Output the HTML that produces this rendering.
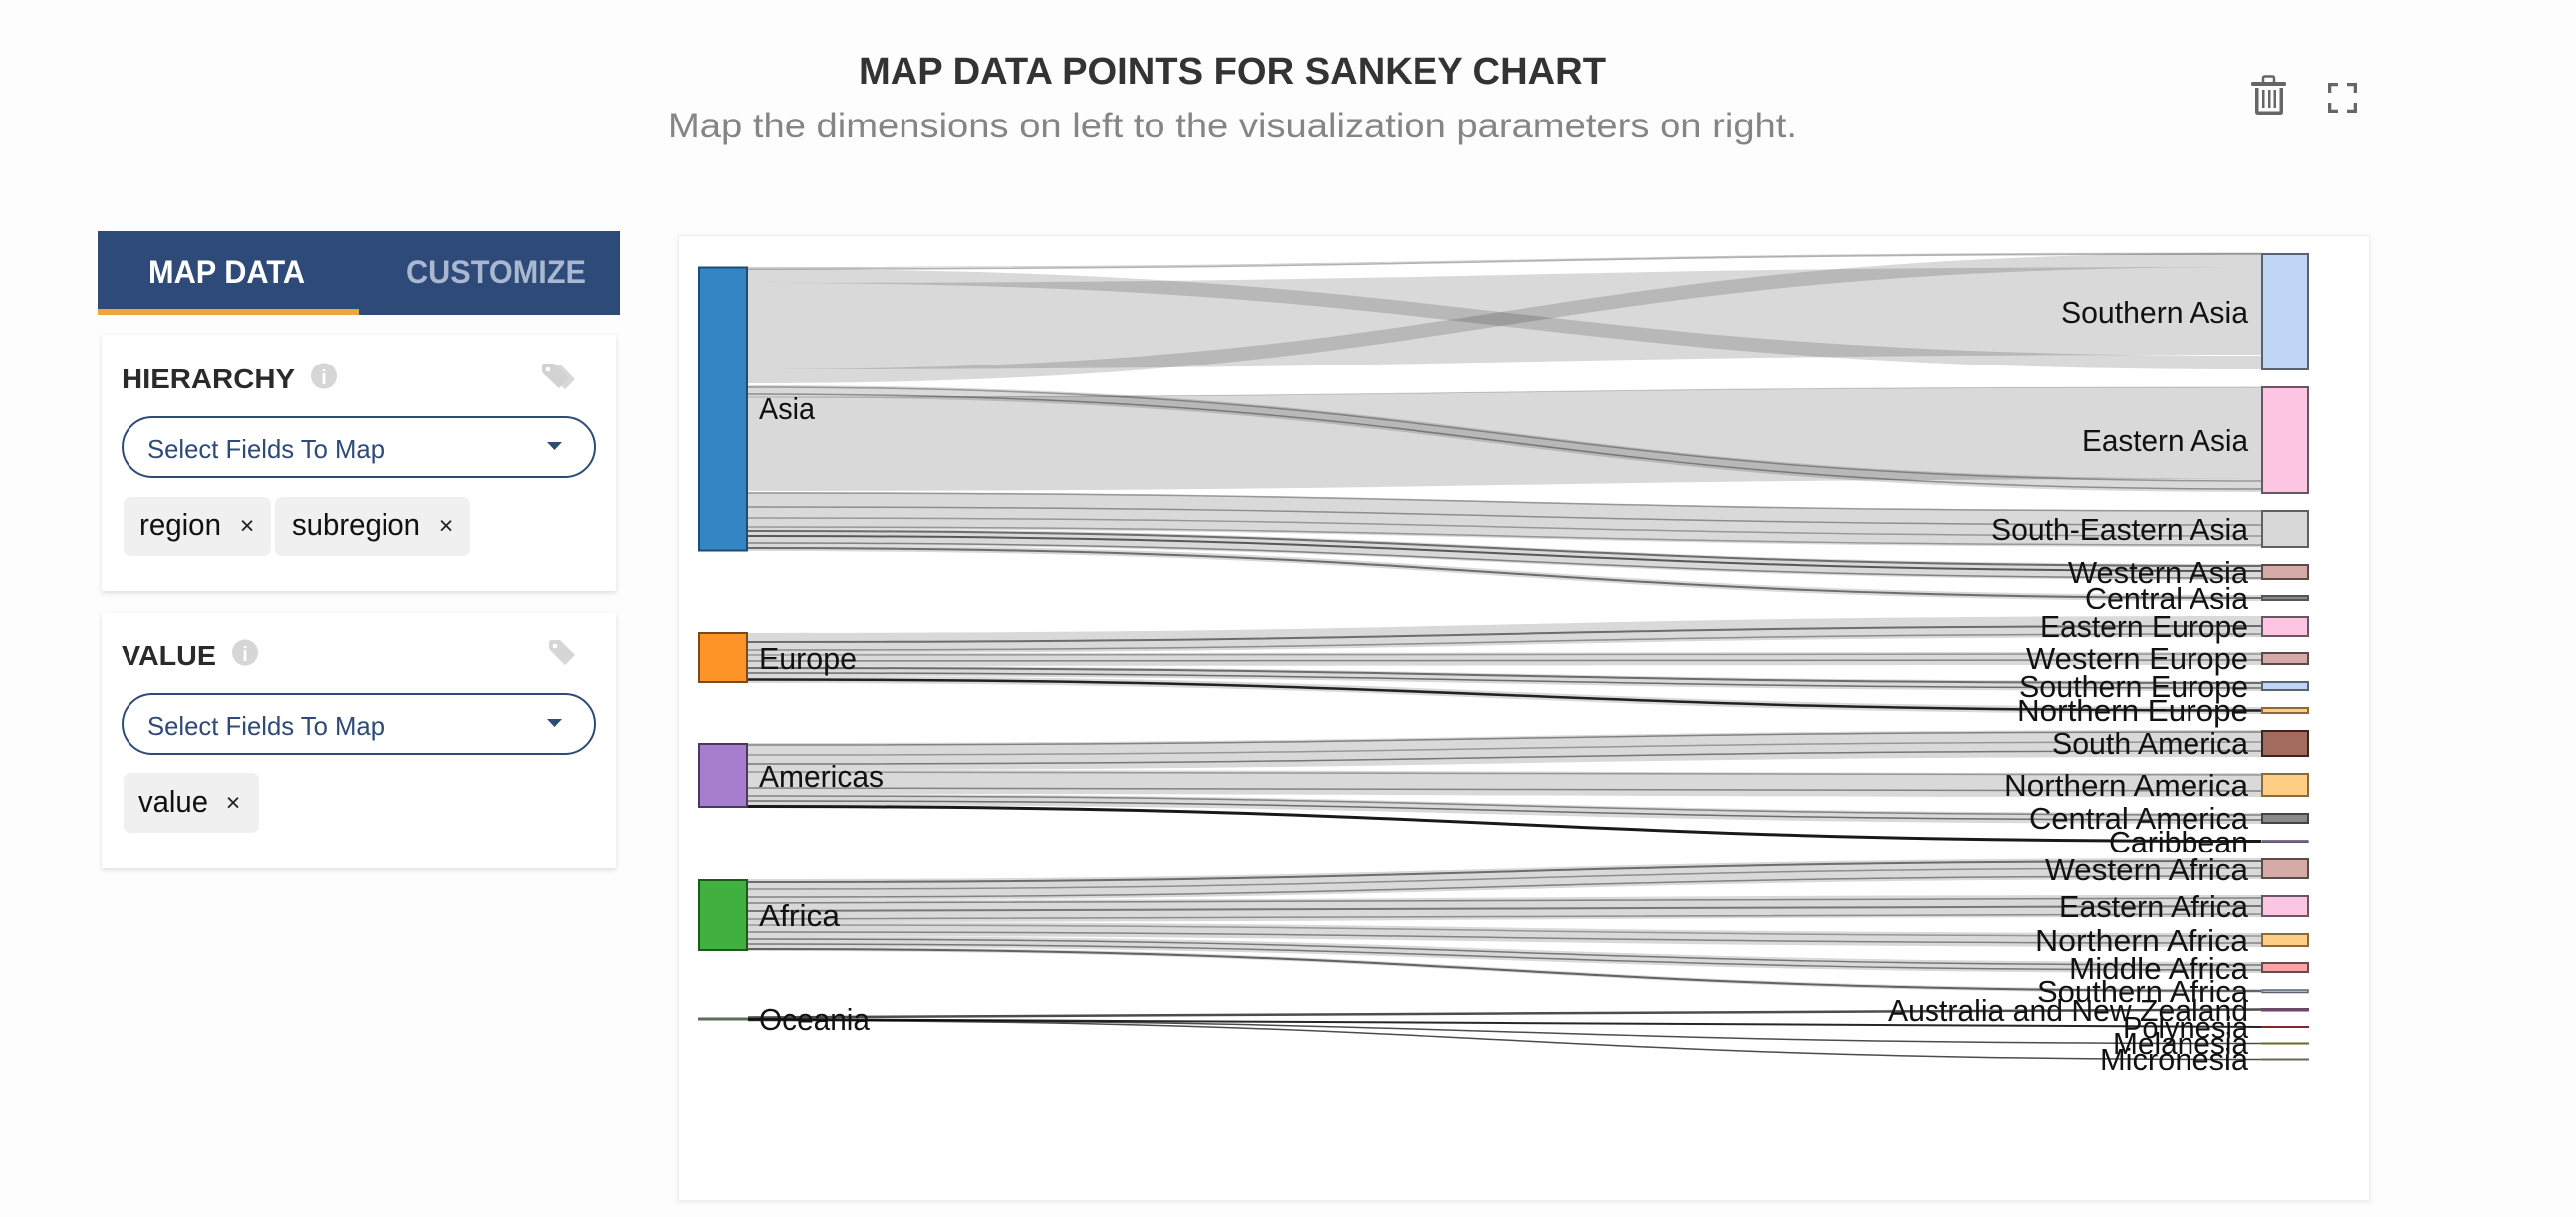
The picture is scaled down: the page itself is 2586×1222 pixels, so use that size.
<!DOCTYPE html>
<html>
<head>
<meta charset="utf-8">
<style>
  html,body{margin:0;padding:0;background:#fdfdfd;}
  svg{display:block;}
  text{font-family:"Liberation Sans",sans-serif;}
</style>
</head>
<body>
<svg width="2586" height="1222" viewBox="0 0 2586 1222" xmlns="http://www.w3.org/2000/svg">
  <defs>
    <filter id="sh" x="-5%" y="-5%" width="110%" height="115%">
      <feDropShadow dx="0" dy="2" stdDeviation="2.5" flood-color="#000" flood-opacity="0.13"/>
    </filter>
    <filter id="sh2" x="-2%" y="-2%" width="104%" height="104%">
      <feDropShadow dx="0" dy="1" stdDeviation="2" flood-color="#000" flood-opacity="0.08"/>
    </filter>
  </defs>
  <rect x="0" y="0" width="2586" height="1222" fill="#fdfdfd"/>

  <!-- Title -->
  <text x="862" y="84" font-size="38" font-weight="bold" fill="#333" textLength="750" lengthAdjust="spacingAndGlyphs">MAP DATA POINTS FOR SANKEY CHART</text>
  <text x="671" y="138" font-size="35" fill="#858585" textLength="1133" lengthAdjust="spacingAndGlyphs">Map the dimensions on left to the visualization parameters on right.</text>

  <!-- Trash icon -->
  <g fill="#666">
    <rect x="2272" y="76.5" width="11" height="7" rx="1.5" fill="none" stroke="#666" stroke-width="2.5"/>
    <rect x="2260" y="82" width="35" height="4" rx="1.5"/>
    <path d="M2264,88 L2292,88 L2292,112 Q2292,115 2289,115 L2267,115 Q2264,115 2264,112 Z"/>
    <rect x="2267.5" y="88" width="21" height="23.5" fill="#fdfdfd"/>
    <rect x="2271" y="90" width="2.5" height="18"/>
    <rect x="2277" y="90" width="2.5" height="18"/>
    <rect x="2282.5" y="90" width="2.5" height="18"/>
  </g>
  <!-- Expand icon -->
  <g fill="#666">
    <path d="M2337,83 h10 v3.3 h-6.7 v6.7 h-3.3 Z"/>
    <path d="M2366,83 h-10 v3.3 h6.7 v6.7 h3.3 Z"/>
    <path d="M2337,113 h10 v-3.3 h-6.7 v-6.7 h-3.3 Z"/>
    <path d="M2366,113 h-10 v-3.3 h6.7 v-6.7 h3.3 Z"/>
  </g>

  <!-- Tab bar -->
  <rect x="98" y="232" width="524" height="84" fill="#2d4a78"/>
  <rect x="98" y="310" width="262" height="6" fill="#e9a93a"/>
  <text x="149" y="284" font-size="32" font-weight="bold" fill="#ffffff" textLength="157" lengthAdjust="spacingAndGlyphs">MAP DATA</text>
  <text x="408" y="284" font-size="32" font-weight="bold" fill="#a9b8d0" textLength="180" lengthAdjust="spacingAndGlyphs">CUSTOMIZE</text>

  <!-- Hierarchy card -->
  <rect x="102" y="336" width="516" height="257" fill="#ffffff" filter="url(#sh)"/>
  <text x="122" y="390" font-size="28" font-weight="bold" fill="#2a2a2a" textLength="174" lengthAdjust="spacingAndGlyphs">HIERARCHY</text>
  <circle cx="325" cy="377.5" r="13" fill="#d6d6d6"/>
  <text x="325" y="386" font-size="20" font-weight="bold" fill="#ffffff" text-anchor="middle">i</text>
  <!-- double tag -->
  <g fill="#d8d8d8">
    <path d="M550,368 Q551,366 553,366 L563,366.5 L577,381 L567,391 L552,377 Z"/>
    <path d="M544,367 Q544,365 546,365 L556,365 L571,380 L561,390 L546,376 Q544,374 544,372 Z" fill="#d2d2d2"/>
    <circle cx="550" cy="371" r="2.3" fill="#fff"/>
  </g>
  <rect x="123" y="419" width="474" height="60" rx="30" fill="#fff" stroke="#2d4a78" stroke-width="2"/>
  <text x="148" y="460" font-size="26" fill="#2d4a78" textLength="238" lengthAdjust="spacingAndGlyphs">Select Fields To Map</text>
  <polygon points="549,444 564,444 556.5,452" fill="#2d4a78"/>
  <rect x="124" y="499" width="148" height="59" rx="7" fill="#f0f0f0"/>
  <text x="140" y="537" font-size="31" fill="#111" textLength="82" lengthAdjust="spacingAndGlyphs">region</text>
  <text x="248" y="536" font-size="25" fill="#222" text-anchor="middle">×</text>
  <rect x="276" y="499" width="196" height="59" rx="7" fill="#f0f0f0"/>
  <text x="293" y="537" font-size="31" fill="#111" textLength="129" lengthAdjust="spacingAndGlyphs">subregion</text>
  <text x="448" y="536" font-size="25" fill="#222" text-anchor="middle">×</text>

  <!-- Value card -->
  <rect x="102" y="616" width="516" height="256" fill="#ffffff" filter="url(#sh)"/>
  <text x="122" y="668" font-size="28" font-weight="bold" fill="#2a2a2a" textLength="95" lengthAdjust="spacingAndGlyphs">VALUE</text>
  <circle cx="246" cy="655.5" r="13" fill="#d6d6d6"/>
  <text x="246" y="664" font-size="20" font-weight="bold" fill="#ffffff" text-anchor="middle">i</text>
  <path d="M551,646 Q551,643 554,643 L562,643 L577,658 L567,668 L552,653 Q551,652 551,650 Z" fill="#d6d6d6"/>
  <circle cx="557" cy="649" r="2.3" fill="#fff"/>
  <rect x="123" y="697" width="474" height="60" rx="30" fill="#fff" stroke="#2d4a78" stroke-width="2"/>
  <text x="148" y="738" font-size="26" fill="#2d4a78" textLength="238" lengthAdjust="spacingAndGlyphs">Select Fields To Map</text>
  <polygon points="549,722 564,722 556.5,730" fill="#2d4a78"/>
  <rect x="124" y="776" width="136" height="60" rx="7" fill="#f0f0f0"/>
  <text x="139" y="815" font-size="31" fill="#111" textLength="70" lengthAdjust="spacingAndGlyphs">value</text>
  <text x="234" y="814" font-size="25" fill="#222" text-anchor="middle">×</text>

  <!-- Chart card -->
  <rect x="681.5" y="236.5" width="1697" height="969" fill="#ffffff" stroke="#eeeeee" stroke-width="1" filter="url(#sh2)"/>

  <!-- Links: ribbons -->
  <g fill="#000" fill-opacity="0.15">
    <!-- Asia -> Southern Asia -->
    <path d="M751,284 C1510.5,284 1510.5,268 2270,268 L2270,356 C1510.5,356 1510.5,371 751,371 Z"/>
    <path d="M751,270 C1510.5,270 1510.5,357 2270,357 L2270,371 C1510.5,371 1510.5,284 751,284 Z"/>
    <path d="M751,371 C1510.5,371 1510.5,254 2270,254 L2270,268 C1510.5,268 1510.5,385 751,385 Z"/>
    <!-- Asia -> Eastern Asia -->
    <path d="M751,399 C1510.5,399 1510.5,389 2270,389 L2270,481 C1510.5,481 1510.5,493 751,493 Z"/>
    <path d="M751,387 C1510.5,387 1510.5,481 2270,481 L2270,494 C1510.5,494 1510.5,399 751,399 Z"/>
    <!-- Asia -> SE Asia, W Asia, C Asia -->
    <path d="M751,494 C1510.5,494 1510.5,512 2270,512 L2270,549 C1510.5,549 1510.5,531 751,531 Z"/>
    <path d="M751,531 C1510.5,531 1510.5,566 2270,566 L2270,582 C1510.5,582 1510.5,547 751,547 Z"/>
    <path d="M751,547 C1510.5,547 1510.5,597 2270,597 L2270,603 C1510.5,603 1510.5,553 751,553 Z"/>
    <!-- Europe -->
    <path d="M751,636 C1510.5,636 1510.5,619 2270,619 L2270,640 C1510.5,640 1510.5,656 751,656 Z"/>
    <path d="M751,656 C1510.5,656 1510.5,655 2270,655 L2270,668 C1510.5,668 1510.5,669 751,669 Z"/>
    <path d="M751,669 C1510.5,669 1510.5,684 2270,684 L2270,694 C1510.5,694 1510.5,679 751,679 Z"/>
    <path d="M751,679 C1510.5,679 1510.5,710 2270,710 L2270,717 C1510.5,717 1510.5,686 751,686 Z"/>
    <!-- Americas -->
    <path d="M751,746 C1510.5,746 1510.5,733 2270,733 L2270,760 C1510.5,760 1510.5,773 751,773 Z"/>
    <path d="M751,773 C1510.5,773 1510.5,776 2270,776 L2270,800 C1510.5,800 1510.5,797 751,797 Z"/>
    <path d="M751,797 C1510.5,797 1510.5,816 2270,816 L2270,827 C1510.5,827 1510.5,808 751,808 Z"/>
    <!-- Africa -->
    <path d="M751,883 C1510.5,883 1510.5,862 2270,862 L2270,883 C1510.5,883 1510.5,904 751,904 Z"/>
    <path d="M751,904 C1510.5,904 1510.5,899 2270,899 L2270,921 C1510.5,921 1510.5,926 751,926 Z"/>
    <path d="M751,926 C1510.5,926 1510.5,937 2270,937 L2270,951 C1510.5,951 1510.5,940 751,940 Z"/>
    <path d="M751,940 C1510.5,940 1510.5,966 2270,966 L2270,977 C1510.5,977 1510.5,951 751,951 Z"/>
    <path d="M751,951 C1510.5,951 1510.5,993 2270,993 L2270,997 C1510.5,997 1510.5,955 751,955 Z"/>
  </g>

  <!-- Links: strand lines -->
  <g fill="none" stroke="#000">
    <path d="M751,270 C1510.5,270 1510.5,255 2270,255" stroke-opacity="0.3" stroke-width="1.5"/>
    <path d="M751,268.5 C1510.5,268.5 1510.5,254 2270,254" stroke-opacity="0.2" stroke-width="1"/>
    <path d="M751,389 C1510.5,389 1510.5,483 2270,483" stroke-opacity="0.3" stroke-width="1.5"/>
    <path d="M751,396 C1510.5,396 1510.5,491 2270,491" stroke-opacity="0.35" stroke-width="1.5"/>
    <path d="M751,399 C1510.5,399 1510.5,389 2270,389" stroke-opacity="0.2" stroke-width="1"/>

    <path d="M751,495 C1510.5,495 1510.5,513 2270,513" stroke-opacity="0.3" stroke-width="1.5"/>
    <path d="M751,509 C1510.5,509 1510.5,527 2270,527" stroke-opacity="0.35" stroke-width="1.5"/>
    <path d="M751,520 C1510.5,520 1510.5,538 2270,538" stroke-opacity="0.3" stroke-width="1.5"/>
    <path d="M751,529 C1510.5,529 1510.5,547 2270,547" stroke-opacity="0.3" stroke-width="1.5"/>
    <path d="M751,533 C1510.5,533 1510.5,568 2270,568" stroke-opacity="0.5" stroke-width="2"/>
    <path d="M751,538 C1510.5,538 1510.5,573 2270,573" stroke-opacity="0.6" stroke-width="2"/>
    <path d="M751,545 C1510.5,545 1510.5,580 2270,580" stroke-opacity="0.4" stroke-width="1.5"/>
    <path d="M751,550 C1510.5,550 1510.5,600 2270,600" stroke-opacity="0.5" stroke-width="2"/>

    <path d="M751,645 C1510.5,645 1510.5,629 2270,629" stroke-opacity="0.5" stroke-width="2"/>
    <path d="M751,653 C1510.5,653 1510.5,637 2270,637" stroke-opacity="0.35" stroke-width="1.5"/>
    <path d="M751,658 C1510.5,658 1510.5,657 2270,657" stroke-opacity="0.3" stroke-width="1.5"/>
    <path d="M751,664 C1510.5,664 1510.5,663 2270,663" stroke-opacity="0.4" stroke-width="1.5"/>
    <path d="M751,671 C1510.5,671 1510.5,686 2270,686" stroke-opacity="0.5" stroke-width="2"/>
    <path d="M751,676 C1510.5,676 1510.5,691 2270,691" stroke-opacity="0.5" stroke-width="1.5"/>
    <path d="M751,682.5 C1510.5,682.5 1510.5,713.5 2270,713.5" stroke-opacity="0.85" stroke-width="2.5"/>

    <path d="M751,748 C1510.5,748 1510.5,735 2270,735" stroke-opacity="0.4" stroke-width="1.5"/>
    <path d="M751,758 C1510.5,758 1510.5,745 2270,745" stroke-opacity="0.3" stroke-width="1.5"/>
    <path d="M751,767 C1510.5,767 1510.5,754 2270,754" stroke-opacity="0.45" stroke-width="1.5"/>
    <path d="M751,775 C1510.5,775 1510.5,778 2270,778" stroke-opacity="0.3" stroke-width="1.5"/>
    <path d="M751,791 C1510.5,791 1510.5,794 2270,794" stroke-opacity="0.4" stroke-width="1.5"/>
    <path d="M751,799 C1510.5,799 1510.5,818 2270,818" stroke-opacity="0.4" stroke-width="1.5"/>
    <path d="M751,804 C1510.5,804 1510.5,823 2270,823" stroke-opacity="0.5" stroke-width="1.5"/>
    <path d="M751,809.5 C1510.5,809.5 1510.5,844.5 2270,844.5" stroke-opacity="0.9" stroke-width="3"/>

    <path d="M751,886 C1510.5,886 1510.5,865 2270,865" stroke-opacity="0.5" stroke-width="2"/>
    <path d="M751,893 C1510.5,893 1510.5,872 2270,872" stroke-opacity="0.35" stroke-width="1.5"/>
    <path d="M751,901 C1510.5,901 1510.5,880 2270,880" stroke-opacity="0.4" stroke-width="1.5"/>
    <path d="M751,907 C1510.5,907 1510.5,902 2270,902" stroke-opacity="0.4" stroke-width="1.5"/>
    <path d="M751,915 C1510.5,915 1510.5,910 2270,910" stroke-opacity="0.45" stroke-width="2"/>
    <path d="M751,923 C1510.5,923 1510.5,918 2270,918" stroke-opacity="0.35" stroke-width="1.5"/>
    <path d="M751,929 C1510.5,929 1510.5,940 2270,940" stroke-opacity="0.3" stroke-width="1.5"/>
    <path d="M751,936 C1510.5,936 1510.5,947 2270,947" stroke-opacity="0.4" stroke-width="1.5"/>
    <path d="M751,943 C1510.5,943 1510.5,969 2270,969" stroke-opacity="0.45" stroke-width="1.5"/>
    <path d="M751,948 C1510.5,948 1510.5,974 2270,974" stroke-opacity="0.45" stroke-width="1.5"/>
    <path d="M751,953 C1510.5,953 1510.5,995 2270,995" stroke-opacity="0.55" stroke-width="2"/>

    <path d="M751,1021.5 C1510.5,1021.5 1510.5,1013.5 2270,1013.5" stroke-opacity="0.7" stroke-width="2.5"/>
    <path d="M751,1023 C1510.5,1023 1510.5,1031 2270,1031" stroke-opacity="0.85" stroke-width="2"/>
    <path d="M751,1024 C1510.5,1024 1510.5,1047.5 2270,1047.5" stroke-opacity="0.7" stroke-width="1.5"/>
    <path d="M751,1024.5 C1510.5,1024.5 1510.5,1063.5 2270,1063.5" stroke-opacity="0.7" stroke-width="1.5"/>
  </g>

  <!-- Left nodes -->
  <rect x="702" y="268.5" width="48" height="284" fill="#3386c3" stroke="#1c4c75" stroke-width="2"/>
  <rect x="702" y="636" width="48" height="49" fill="#fd9428" stroke="#7a4a1a" stroke-width="2"/>
  <rect x="702" y="747" width="48" height="63" fill="#a77dcd" stroke="#4a3a5a" stroke-width="2"/>
  <rect x="702" y="884" width="48" height="70" fill="#40b040" stroke="#1c5a1c" stroke-width="2"/>
  <rect x="701" y="1021.5" width="50" height="3" fill="#5b6d5b"/>

  <!-- Right nodes -->
  <g stroke-width="2">
    <rect x="2271" y="255" width="46" height="116" fill="#bfd7f5" stroke="#5a6272"/>
    <rect x="2271" y="389" width="46" height="106" fill="#fcc6e2" stroke="#6a5562"/>
    <rect x="2271" y="513" width="46" height="36" fill="#d8d8d8" stroke="#606060"/>
    <rect x="2271" y="567" width="46" height="14" fill="#d6aaa6" stroke="#5a4a48"/>
    <rect x="2271" y="598" width="46" height="4" fill="#8a8a8a" stroke="#555"/>
    <rect x="2271" y="620" width="46" height="19" fill="#fcc6e2" stroke="#6a5562"/>
    <rect x="2271" y="656" width="46" height="11" fill="#d6aaa6" stroke="#5a4a48"/>
    <rect x="2271" y="685" width="46" height="8" fill="#bfd7f5" stroke="#5a6272"/>
    <rect x="2271" y="711" width="46" height="5" fill="#fecd86" stroke="#8a6a3a"/>
    <rect x="2271" y="734" width="46" height="25" fill="#a26b5e" stroke="#3a2520"/>
    <rect x="2271" y="777" width="46" height="22" fill="#fecd86" stroke="#8a6a3a"/>
    <rect x="2271" y="817" width="46" height="9" fill="#8a8a8a" stroke="#444"/>
    <rect x="2271" y="843.8" width="46" height="1.6" fill="#a080c0" stroke="#605070" stroke-width="1.2"/>
    <rect x="2271" y="863" width="46" height="19" fill="#d6aaa6" stroke="#5a4a48"/>
    <rect x="2271" y="900" width="46" height="20" fill="#fcc6e2" stroke="#6a5562"/>
    <rect x="2271" y="938" width="46" height="12" fill="#fecd86" stroke="#8a6a3a"/>
    <rect x="2271" y="967" width="46" height="9" fill="#f9a5a5" stroke="#6a4a4a"/>
    <rect x="2271" y="994" width="46" height="2.5" fill="#bfd7f5" stroke="#5a6272" stroke-width="1.5"/>
    <rect x="2270" y="1012" width="48" height="3.5" fill="#6e4668"/>
    <rect x="2270" y="1030" width="48" height="2" fill="#7a2a2a"/>
    <rect x="2270" y="1046.5" width="48" height="2" fill="#6a6a2a"/>
    <rect x="2270" y="1062.5" width="48" height="2" fill="#6a6a50"/>
  </g>

  <!-- Left labels -->
  <g font-size="31" fill="#111">
    <text x="762" y="421" textLength="56" lengthAdjust="spacingAndGlyphs">Asia</text>
    <text x="762" y="672" textLength="98" lengthAdjust="spacingAndGlyphs">Europe</text>
    <text x="762" y="790" textLength="125" lengthAdjust="spacingAndGlyphs">Americas</text>
    <text x="762" y="930" textLength="81" lengthAdjust="spacingAndGlyphs">Africa</text>
    <text x="762" y="1034" textLength="111" lengthAdjust="spacingAndGlyphs">Oceania</text>
  </g>

  <!-- Right labels -->
  <g font-size="31" fill="#111" text-anchor="end">
    <text x="2257" y="324" textLength="188" lengthAdjust="spacingAndGlyphs">Southern Asia</text>
    <text x="2257" y="453" textLength="167" lengthAdjust="spacingAndGlyphs">Eastern Asia</text>
    <text x="2257" y="542" textLength="258" lengthAdjust="spacingAndGlyphs">South-Eastern Asia</text>
    <text x="2257" y="585" textLength="181" lengthAdjust="spacingAndGlyphs">Western Asia</text>
    <text x="2257" y="611" textLength="164" lengthAdjust="spacingAndGlyphs">Central Asia</text>
    <text x="2257" y="640" textLength="209" lengthAdjust="spacingAndGlyphs">Eastern Europe</text>
    <text x="2257" y="672" textLength="223" lengthAdjust="spacingAndGlyphs">Western Europe</text>
    <text x="2257" y="700" textLength="230" lengthAdjust="spacingAndGlyphs">Southern Europe</text>
    <text x="2257" y="724" textLength="232" lengthAdjust="spacingAndGlyphs">Northern Europe</text>
    <text x="2257" y="757" textLength="197" lengthAdjust="spacingAndGlyphs">South America</text>
    <text x="2257" y="799" textLength="245" lengthAdjust="spacingAndGlyphs">Northern America</text>
    <text x="2257" y="832" textLength="220" lengthAdjust="spacingAndGlyphs">Central America</text>
    <text x="2257" y="856" textLength="140" lengthAdjust="spacingAndGlyphs">Caribbean</text>
    <text x="2257" y="884" textLength="204" lengthAdjust="spacingAndGlyphs">Western Africa</text>
    <text x="2257" y="921" textLength="190" lengthAdjust="spacingAndGlyphs">Eastern Africa</text>
    <text x="2257" y="955" textLength="214" lengthAdjust="spacingAndGlyphs">Northern Africa</text>
    <text x="2257" y="983" textLength="180" lengthAdjust="spacingAndGlyphs">Middle Africa</text>
    <text x="2257" y="1006" textLength="212" lengthAdjust="spacingAndGlyphs">Southern Africa</text>
    <text x="2257" y="1025" textLength="362" lengthAdjust="spacingAndGlyphs">Australia and New Zealand</text>
    <text x="2257" y="1042" textLength="126" lengthAdjust="spacingAndGlyphs">Polynesia</text>
    <text x="2257" y="1058" textLength="136" lengthAdjust="spacingAndGlyphs">Melanesia</text>
    <text x="2257" y="1074" textLength="149" lengthAdjust="spacingAndGlyphs">Micronesia</text>
  </g>
</svg>
</body>
</html>
